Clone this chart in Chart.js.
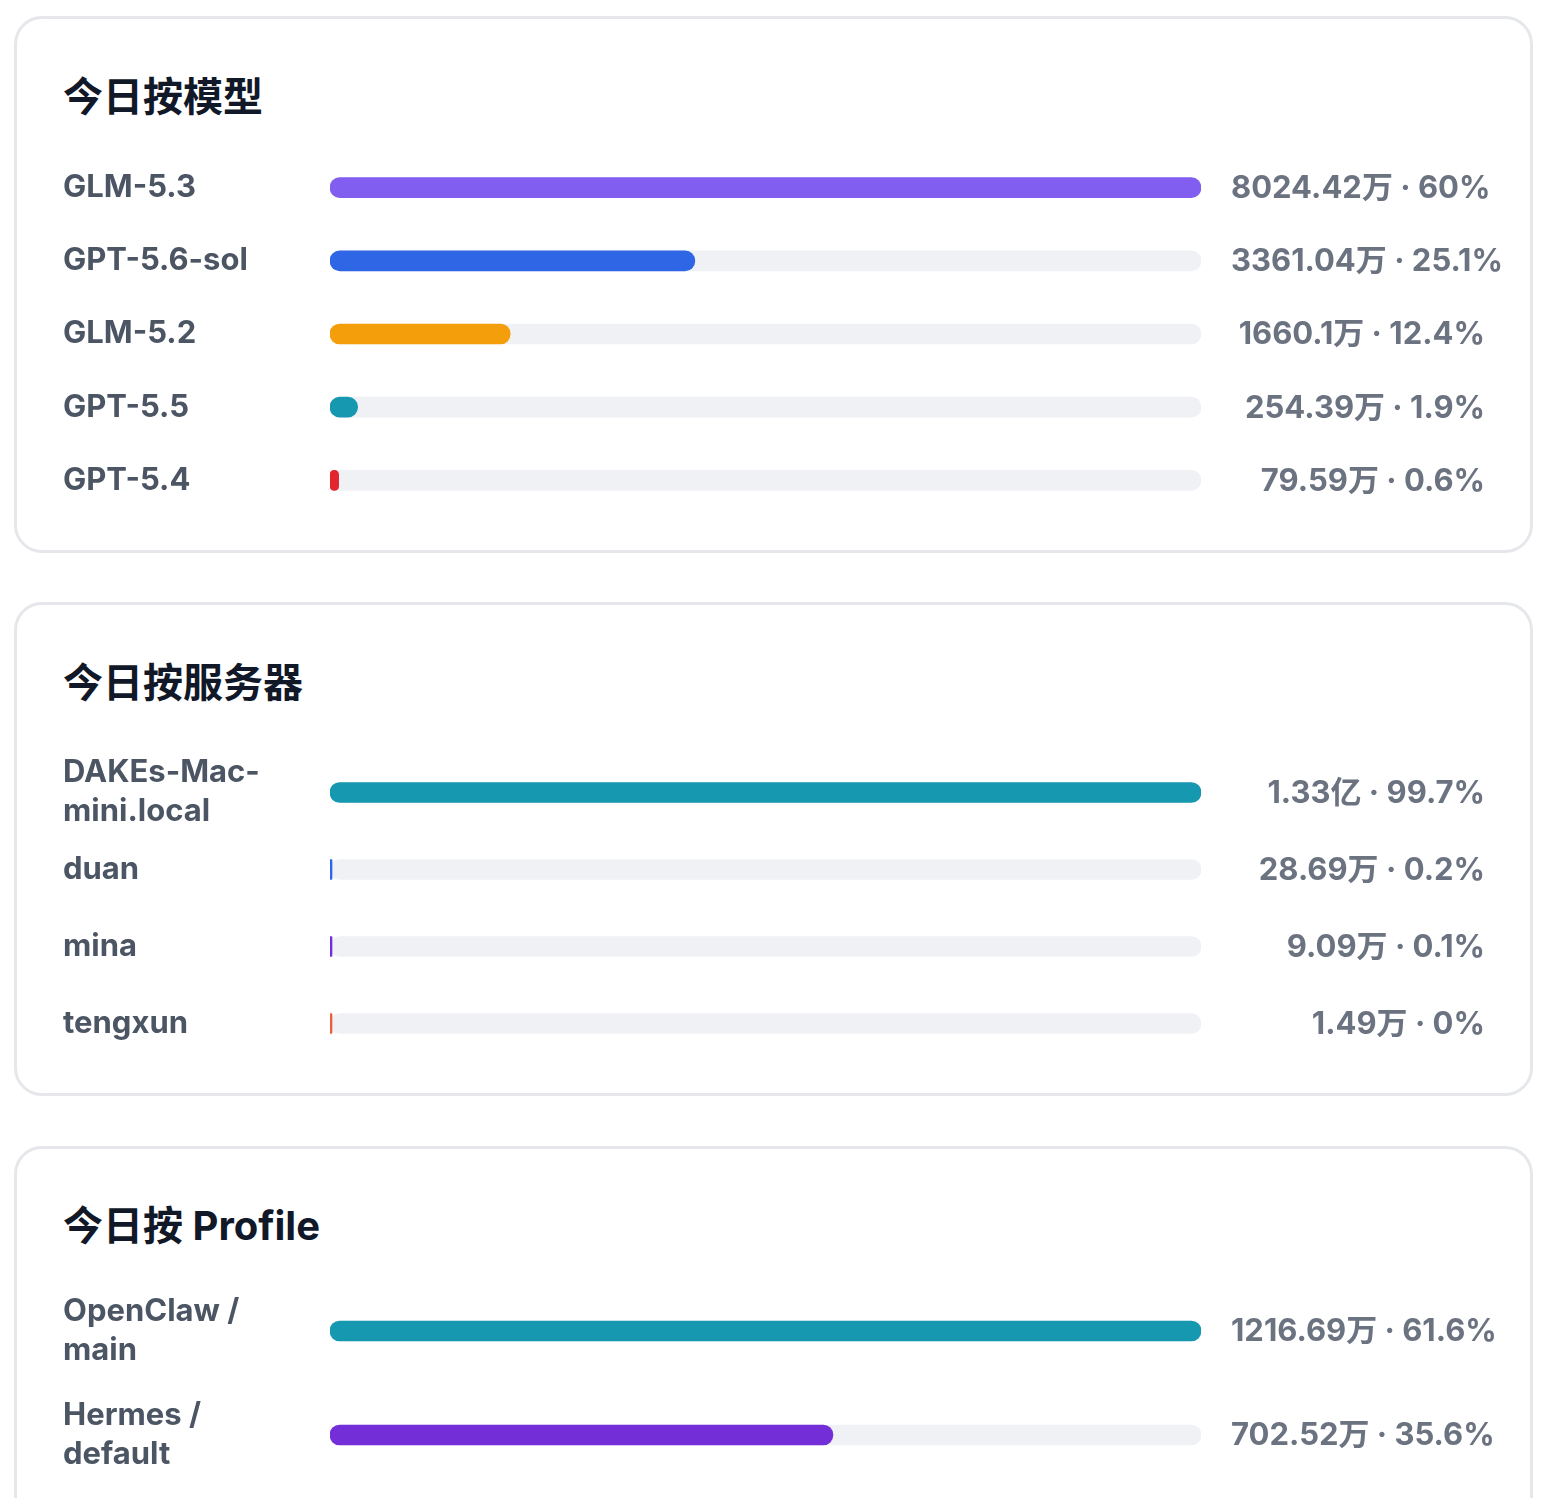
<!DOCTYPE html>
<html lang="zh-CN">
<head>
<meta charset="utf-8">
<title>今日用量</title>
<script src="https://cdn.jsdelivr.net/npm/chart.js@4.4.1/dist/chart.umd.min.js"></script>
<style>
  html, body { margin: 0; padding: 0; background: #fff; overflow: hidden; }
  body { width: 1556px; height: 1498px; position: relative; font-family: Inter, "Noto Sans CJK SC", sans-serif; }
  .card { position: absolute; left: 14px; width: 1519px; box-sizing: border-box; border: 3px solid #e5e7eb; border-radius: 28px; background: #fff; }
  .title { position: absolute; left: 63px; margin: 0; font-size: 40px; line-height: 48px; font-weight: 700; color: #111827; }
  .plot { position: absolute; left: 63px; width: 1457px; }
</style>
</head>
<body>

<div class="card" style="top:16px; height:537px"></div>
<div class="card" style="top:602px; height:494px"></div>
<div class="card" style="top:1146px; height:520px"></div>

<h2 class="title" style="top:73px">今日按模型</h2>
<h2 class="title" style="top:659px">今日按服务器</h2>
<h2 class="title" style="top:1202px">今日按 Profile</h2>

<div class="plot" style="top:151px; height:366px"><canvas id="byModel"></canvas></div>
<div class="plot" style="top:754px; height:308px"><canvas id="byServer"></canvas></div>
<div class="plot" style="top:1279px; height:208px"><canvas id="byProfile"></canvas></div>

<script>
// Today's token usage, in 万 (10k) units
const modelNames = ['GLM-5.3', 'GPT-5.6-sol', 'GLM-5.2', 'GPT-5.5', 'GPT-5.4']
const modelTokens = [8024.42, 3361.04, 1660.1, 254.39, 79.59]
const modelAmounts = ['8024.42万', '3361.04万', '1660.1万', '254.39万', '79.59万']
const modelShares = [60, 25.1, 12.4, 1.9, 0.6]

const serverNames = [['DAKEs-Mac-', 'mini.local'], 'duan', 'mina', 'tengxun']
const serverTokens = [13300, 28.69, 9.09, 1.49]
const serverAmounts = ['1.33亿', '28.69万', '9.09万', '1.49万']
const serverShares = [99.7, 0.2, 0.1, 0]

const profileNames = [['OpenClaw /', 'main'], ['Hermes /', 'default']]
const profileTokens = [1216.69, 702.52]
const profileAmounts = ['1216.69万', '702.52万']
const profileShares = [61.6, 35.6]

// Bar colours per row
const modelColors = ['#825ef0', '#2f66e6', '#f59e0b', '#1699b0', '#e3262e']
const serverColors = ['#1699b0', '#2f66e6', '#742ed8', '#e8603c']
const profileColors = ['#1699b0', '#742ed8']

const FONT = 'Inter, "Noto Sans CJK SC", sans-serif'

// Draws "amount · share%" to the right of each bar track
const valueLabels = {
  id: 'valueLabels',
  afterDatasetsDraw (chart, args, opts) {
    const { ctx, chartArea } = chart
    const yScale = chart.scales.y
    ctx.save()
    ctx.font = `bold 31px ${FONT}`
    ctx.fillStyle = '#6b7280'
    ctx.textAlign = 'right'
    ctx.textBaseline = 'middle'
    opts.texts.forEach((text, i) => {
      const w = ctx.measureText(text).width
      const x = chartArea.right + 30 + Math.max(w, 254)
      ctx.fillText(text, x, yScale.getPixelForValue(i) + 1)
    })
    ctx.restore()
  }
}

function usageChart (id, names, tokens, amounts, shares, colors) {
  const max = Math.max(...tokens)
  const texts = amounts.map((a, i) => `${a} · ${shares[i]}%`)

  new Chart(document.getElementById(id), {
    type: 'bar',
    data: {
      labels: names,
      datasets: [
        {
          data: tokens,
          backgroundColor: colors,
          barThickness: 20,
          borderRadius: 10,
          borderSkipped: false,
          minBarLength: 2,
          grouped: false,
          order: 0
        },
        {
          // grey track behind each bar
          data: names.map(() => max),
          backgroundColor: '#f0f1f5',
          barThickness: 20,
          borderRadius: 10,
          borderSkipped: false,
          grouped: false,
          order: 1
        }
      ]
    },
    options: {
      indexAxis: 'y',
      responsive: true,
      maintainAspectRatio: false,
      animation: false,
      events: [],
      layout: { padding: { left: 0, right: 319, top: 0, bottom: 0 } },
      plugins: {
        legend: { display: false },
        tooltip: { enabled: false },
        valueLabels: { texts }
      },
      scales: {
        x: { display: false, min: 0, max },
        y: {
          afterFit: (scale) => {
            scale.width = 267
            // rows fill the whole plot height
            scale.paddingTop = 0
            scale.paddingBottom = 0
          },
          grid: { display: false },
          border: { display: false },
          ticks: {
            autoSkip: false,
            crossAlign: 'far',
            padding: 0,
            color: '#4b5563',
            font: { family: FONT, size: 31, weight: 'bold', lineHeight: 1.26 }
          }
        }
      }
    },
    plugins: [valueLabels]
  })
}

usageChart('byModel', modelNames, modelTokens, modelAmounts, modelShares, modelColors)
usageChart('byServer', serverNames, serverTokens, serverAmounts, serverShares, serverColors)
usageChart('byProfile', profileNames, profileTokens, profileAmounts, profileShares, profileColors)
</script>
</body>
</html>
